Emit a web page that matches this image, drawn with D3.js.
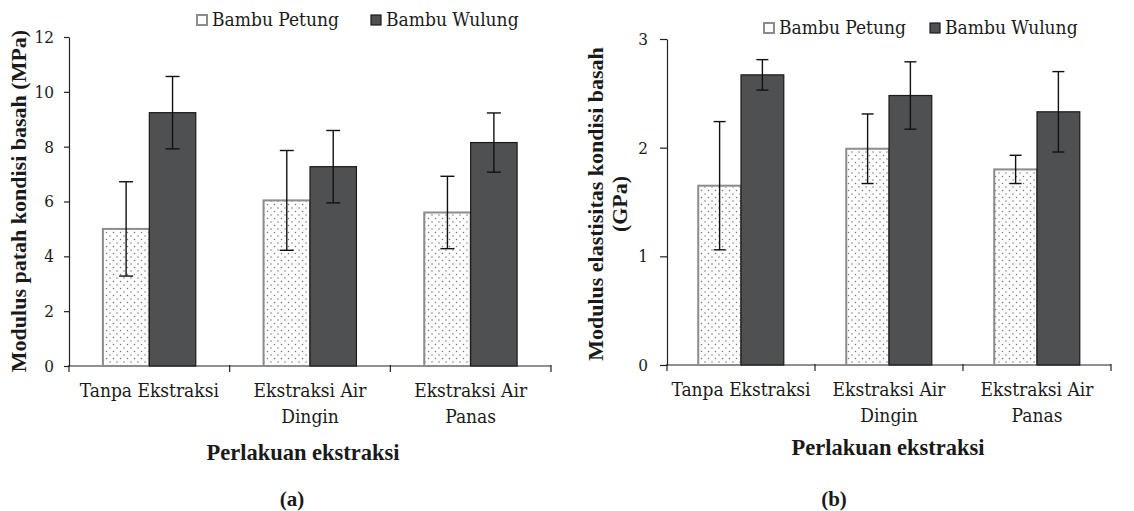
<!DOCTYPE html>
<html>
<head>
<meta charset="utf-8">
<script src="https://d3js.org/d3.v7.min.js"></script>
<style>
  body { margin: 0; background: #fff; }
  text { font-family: "DejaVu Serif Condensed", "DejaVu Serif", serif; fill: #1a1a1a; }
  text.bold { font-family: "Liberation Serif", "DejaVu Serif", serif; font-weight: bold; }
</style>
</head>
<body>
<div id="chart"></div>
<script>
// data
var categories = [["Tanpa Ekstraksi"], ["Ekstraksi Air", "Dingin"], ["Ekstraksi Air", "Panas"]];
var series = ["Bambu Petung", "Bambu Wulung"];

// (a) modulus patah (MPa)
var morPetung = [5.0, 6.04, 5.6];
var morPetungSd = [1.72, 1.82, 1.32];
var morWulung = [9.24, 7.27, 8.15];
var morWulungSd = [1.32, 1.32, 1.08];
var morTicks = [0, 2, 4, 6, 8, 10, 12];

// (b) modulus elastisitas (GPa)
var moePetung = [1.65, 1.99, 1.80];
var moePetungSd = [0.59, 0.32, 0.13];
var moeWulung = [2.67, 2.48, 2.33];
var moeWulungSd = [0.14, 0.31, 0.37];
var moeTicks = [0, 1, 2, 3];

var svg = d3.select("#chart").append("svg")
    .attr("width", 1134)
    .attr("height", 511);

// dotted fill for the Petung bars
var pat = svg.append("defs").append("pattern")
    .attr("id", "dots")
    .attr("patternUnits", "userSpaceOnUse")
    .attr("width", 7).attr("height", 7);
pat.append("rect").attr("width", 7).attr("height", 7).attr("fill", "#fcfcfc");
pat.append("circle").attr("cx", 1.5).attr("cy", 1.5).attr("r", 0.75).attr("fill", "#777");
pat.append("circle").attr("cx", 5).attr("cy", 5).attr("r", 0.75).attr("fill", "#777");

var fills = ["url(#dots)", "#4f5052"];
var strokes = ["#8c8c8c", "#1a1a1a"];
var strokeW = [2, 1.2];

function drawPanel(p) {
    var g = svg.append("g");

    var x = d3.scaleBand()
        .domain(d3.range(categories.length))
        .range([p.left, p.right])
        .padding(0);
    var xs = d3.scaleBand()
        .domain(series)
        .range([0, x.bandwidth()])
        .paddingInner(0)
        .paddingOuter(0.73);
    var y = d3.scaleLinear()
        .domain([0, p.max])
        .range([p.bottom, p.top]);

    // y axis
    g.append("g")
        .attr("transform", "translate(" + p.left + ",0)")
        .call(d3.axisLeft(y).tickValues(p.ticks).tickFormat(d3.format("d"))
            .tickSize(p.tickSize).tickSizeOuter(0).tickPadding(p.tickPad))
        .call(function (s) {
            s.selectAll("text").style("font-size", p.tickFont + "px");
            s.select(".domain").attr("stroke", "#222").attr("stroke-width", 1.2);
            s.selectAll(".tick line").attr("stroke", "#222").attr("stroke-width", 1.2);
        });

    // x axis line and boundary ticks
    g.append("line")
        .attr("x1", p.left).attr("x2", p.right)
        .attr("y1", y(0)).attr("y2", y(0))
        .attr("stroke", "#222").attr("stroke-width", 1.2);
    g.selectAll(".btick")
        .data(d3.range(categories.length + 1))
        .join("line")
        .attr("x1", function (d) { return d < categories.length ? x(d) : x.range()[1]; })
        .attr("x2", function (d) { return d < categories.length ? x(d) : x.range()[1]; })
        .attr("y1", y(0) - 1)
        .attr("y2", y(0) + 6)
        .attr("stroke", "#222").attr("stroke-width", 1.2);

    var rows = categories.map(function (c, i) {
        return [
            { i: i, s: series[0], k: 0, v: p.petung[i], sd: p.petungSd[i] },
            { i: i, s: series[1], k: 1, v: p.wulung[i], sd: p.wulungSd[i] }
        ];
    });
    var flat = [].concat.apply([], rows);

    // bars
    g.selectAll(".bar")
        .data(flat)
        .join("rect")
        .attr("x", function (d) { return x(d.i) + xs(d.s); })
        .attr("width", xs.bandwidth())
        .attr("y", function (d) { return y(d.v); })
        .attr("height", function (d) { return y(0) - y(d.v); })
        .attr("fill", function (d) { return fills[d.k]; })
        .attr("stroke", function (d) { return strokes[d.k]; })
        .attr("stroke-width", function (d) { return strokeW[d.k]; });

    // error bars
    var eb = g.selectAll(".err")
        .data(flat)
        .join("g")
        .attr("stroke", "#111")
        .attr("stroke-width", 1.4);
    function cx(d) { return x(d.i) + xs(d.s) + xs.bandwidth() / 2; }
    eb.append("line")
        .attr("x1", cx).attr("x2", cx)
        .attr("y1", function (d) { return y(d.v + d.sd); })
        .attr("y2", function (d) { return y(d.v - d.sd); });
    eb.append("line")
        .attr("x1", function (d) { return cx(d) - p.cap; })
        .attr("x2", function (d) { return cx(d) + p.cap; })
        .attr("y1", function (d) { return y(d.v + d.sd); })
        .attr("y2", function (d) { return y(d.v + d.sd); });
    eb.append("line")
        .attr("x1", function (d) { return cx(d) - p.cap; })
        .attr("x2", function (d) { return cx(d) + p.cap; })
        .attr("y1", function (d) { return y(d.v - d.sd); })
        .attr("y2", function (d) { return y(d.v - d.sd); });

    // category labels
    g.selectAll(".cat")
        .data(categories)
        .join("text")
        .attr("text-anchor", "middle")
        .style("font-size", "19px")
        .attr("transform", function (d, i) {
            return "translate(" + (x(i) + x.bandwidth() / 2) + "," + p.catY + ")";
        })
        .selectAll("tspan")
        .data(function (d) { return d; })
        .join("tspan")
        .attr("x", 0)
        .attr("y", function (d, j) { return j * 26; })
        .text(function (d) { return d; });

    // x axis title
    g.append("text")
        .attr("class", "bold")
        .attr("x", p.xTitleX).attr("y", p.xTitleY)
        .attr("text-anchor", "middle")
        .style("font-size", "22.5px")
        .text("Perlakuan ekstraksi");

    // y axis title
    var yt = g.append("text")
        .attr("class", "bold")
        .attr("transform", "translate(" + p.yTitleX + "," + p.yTitleY + ") rotate(-90)")
        .attr("text-anchor", "middle")
        .style("font-size", "22px");
    yt.selectAll("tspan")
        .data(p.yTitle)
        .join("tspan")
        .attr("x", 0)
        .attr("y", function (d, j) { return j * 24; })
        .text(function (d) { return d; });

    // legend
    var lg = g.selectAll(".leg")
        .data(series)
        .join("g")
        .attr("transform", function (d, i) { return "translate(" + p.legX[i] + "," + p.legY + ")"; });
    lg.append("rect")
        .attr("x", 0).attr("y", -11)
        .attr("width", 10).attr("height", 10)
        .attr("fill", function (d, i) { return i === 0 ? "#fcfcfc" : fills[1]; })
        .attr("stroke", function (d, i) { return strokes[i]; })
        .attr("stroke-width", function (d, i) { return i === 0 ? 2 : 1.2; });
    lg.append("text")
        .attr("x", 15).attr("y", 0)
        .style("font-size", "19px")
        .text(function (d) { return d; });

    // panel label
    g.append("text")
        .attr("class", "bold")
        .attr("x", p.labX).attr("y", 506)
        .attr("text-anchor", "middle")
        .style("font-size", "21px")
        .text(p.label);
}

drawPanel({
    left: 69, right: 551, top: 37, bottom: 366, max: 12, ticks: morTicks,
    petung: morPetung, petungSd: morPetungSd, wulung: morWulung, wulungSd: morWulungSd,
    tickSize: 5, tickPad: 10, tickFont: 17, cap: 7,
    catY: 397, xTitleX: 303, xTitleY: 460,
    yTitle: ["Modulus patah kondisi basah (MPa)"], yTitleX: 26, yTitleY: 201,
    legX: [197, 371], legY: 26, labX: 292, label: "(a)"
});

drawPanel({
    left: 667, right: 1111, top: 39, bottom: 365, max: 3, ticks: moeTicks,
    petung: moePetung, petungSd: moePetungSd, wulung: moeWulung, wulungSd: moeWulungSd,
    tickSize: 7, tickPad: 12, tickFont: 17, cap: 6,
    catY: 396, xTitleX: 888, xTitleY: 455,
    yTitle: ["Modulus elastisitas kondisi basah", "(GPa)"], yTitleX: 603, yTitleY: 204,
    legX: [764, 930], legY: 34, labX: 834, label: "(b)"
});
</script>
</body>
</html>
